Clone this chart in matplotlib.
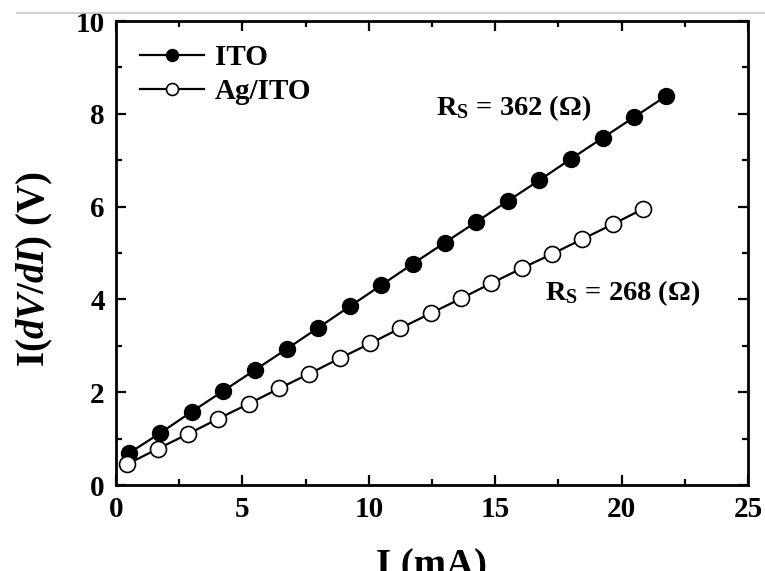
import matplotlib
matplotlib.use("Agg")
import matplotlib.pyplot as plt
from matplotlib.ticker import MultipleLocator
from matplotlib.lines import Line2D

ito_x = [0.5, 1.75, 3.0, 4.25, 5.5, 6.75, 8.0, 9.25, 10.5, 11.75, 13.0, 14.25, 15.5, 16.75, 18.0, 19.25, 20.5, 21.75]
ito_y = [0.68, 1.12, 1.58, 2.03, 2.48, 2.93, 3.39, 3.85, 4.31, 4.77, 5.22, 5.67, 6.12, 6.57, 7.03, 7.48, 7.93, 8.38]
ag_x = [0.45, 1.65, 2.85, 4.05, 5.25, 6.45, 7.65, 8.85, 10.05, 11.25, 12.45, 13.65, 14.85, 16.05, 17.25, 18.45, 19.65, 20.85]
ag_y = [0.45, 0.78, 1.10, 1.43, 1.75, 2.08, 2.40, 2.73, 3.05, 3.38, 3.70, 4.02, 4.35, 4.67, 4.98, 5.30, 5.62, 5.95]
labels = ["ITO", "Ag/ITO"]
ann_ito = r"$\mathbf{R}_\mathbf{S}$ = 362 (Ω)"
ann_ag = r"$\mathbf{R}_\mathbf{S}$ = 268 (Ω)"

plt.rcParams['font.family'] = ['Liberation Serif', 'DejaVu Serif']
plt.rcParams['font.weight'] = 'bold'
plt.rcParams['mathtext.fontset'] = 'custom'
plt.rcParams['mathtext.rm'] = 'Liberation Serif:bold'
plt.rcParams['mathtext.bf'] = 'Liberation Serif:bold'
plt.rcParams['mathtext.it'] = 'Liberation Serif:italic:bold'

fig = plt.figure(figsize=(7.65, 5.71), dpi=100)
ax = fig.add_axes([0.1516, 0.1506, 0.8262, 0.8126])

fig.add_artist(Line2D([0.022, 1.0], [1 - 13/571, 1 - 13/571], color='#c8c8c8', lw=1.2, transform=fig.transFigure))

ax.plot(ito_x, ito_y, '-o', color='black', mfc='black', mec='black', ms=11.5, lw=1.6, label=labels[0])
ax.plot(ag_x, ag_y, '-o', color='black', mfc='white', mec='black', ms=11.5, mew=1.2, lw=1.6, label=labels[1])

ax.set_xlim(0, 25)
ax.set_ylim(0, 10)
ax.xaxis.set_major_locator(MultipleLocator(5))
ax.xaxis.set_minor_locator(MultipleLocator(2.5))
ax.yaxis.set_major_locator(MultipleLocator(2))
ax.yaxis.set_minor_locator(MultipleLocator(1))
ax.tick_params(which='both', direction='in', top=True, right=True, width=1.6)
ax.tick_params(which='major', length=7, labelsize=21)
ax.tick_params(axis='x', which='major', pad=8)
ax.tick_params(axis='y', which='major', pad=8)
ax.tick_params(which='minor', length=4)
for lab in ax.get_xticklabels() + ax.get_yticklabels():
    lab.set_fontweight('bold')
for s in ax.spines.values():
    s.set_linewidth(2.0)

ax.set_xlabel("I (mA)", fontsize=28, fontweight='bold', labelpad=18)
ax.set_ylabel(r"I($\mathit{dV/dI}$) (V)", fontsize=28, fontweight='bold')
ax.yaxis.set_label_coords(-0.097, 0.466)

ax.text(12.66, 7.97, ann_ito, fontsize=20.5, fontweight='bold')
ax.text(16.97, 3.99, ann_ag, fontsize=20.5, fontweight='bold')

leg = ax.legend(loc='upper left', frameon=False, fontsize=21, handlelength=2.2,
                borderaxespad=0.0, bbox_to_anchor=(0.02, 0.976), labelspacing=0.25,
                handletextpad=0.35, markerscale=0.75)
for t in leg.get_texts():
    t.set_fontweight('bold')

fig.savefig("out.png", dpi=100)
